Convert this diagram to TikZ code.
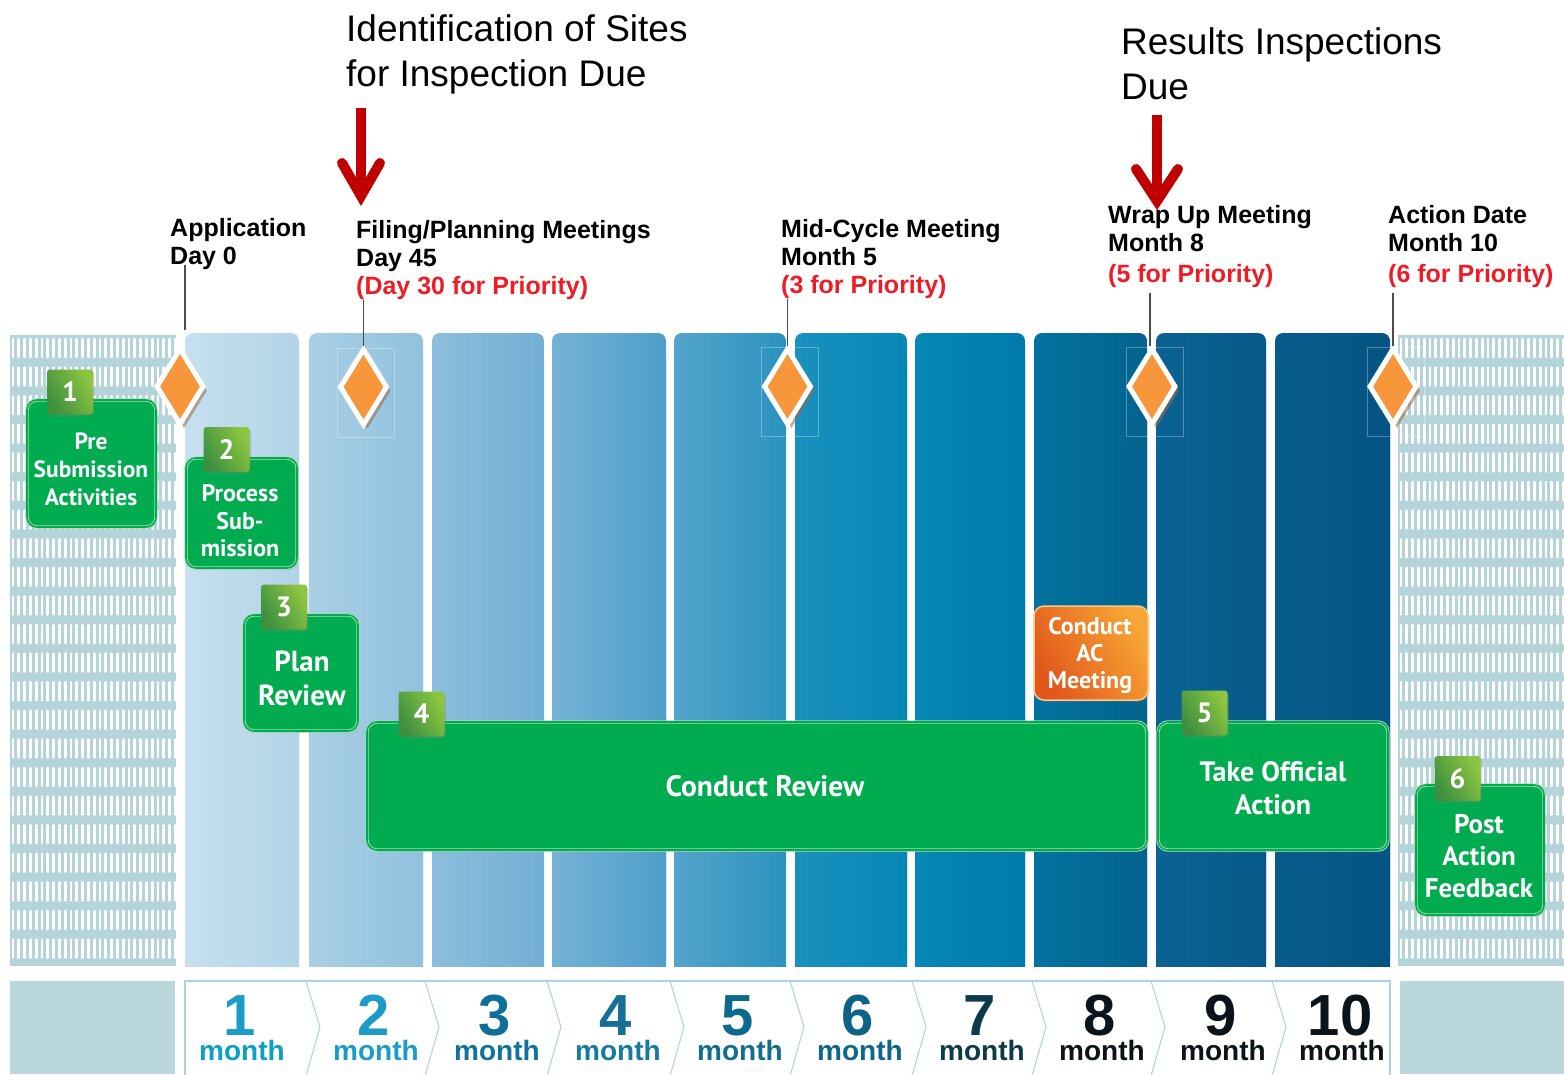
\documentclass[tikz,border=0pt]{standalone}
\usepackage{fontspec}
\setmainfont{Liberation Sans}
\newfontfamily\boxfont{PT Sans}
\usetikzlibrary{shapes.geometric,shadows}
\definecolor{gfill}{HTML}{00AC4F}
\definecolor{gedge}{HTML}{A9DDB4}
\definecolor{tabA}{HTML}{3E8F40}
\definecolor{tabB}{HTML}{8CC540}
\definecolor{orangeD}{HTML}{F7963B}
\definecolor{dshadow}{HTML}{9A6A4A}
\definecolor{prio}{HTML}{EE1C25}
\definecolor{arrowred}{HTML}{C00000}
\definecolor{hatchbg}{HTML}{B5D4D9}
\definecolor{blockbg}{HTML}{BAD8DB}
\definecolor{panelln}{HTML}{A6D2EA}
\definecolor{acA}{HTML}{E2561C}
\definecolor{acB}{HTML}{F7A634}
\definecolor{acedge}{HTML}{F9C98A}
\definecolor{c1a}{HTML}{C6E0EF}\definecolor{c1b}{HTML}{B2D4E8}
\definecolor{c2a}{HTML}{A9CFE5}\definecolor{c2b}{HTML}{90C1DD}
\definecolor{c3a}{HTML}{8CBEDC}\definecolor{c3b}{HTML}{72AFD4}
\definecolor{c4a}{HTML}{75B2D6}\definecolor{c4b}{HTML}{4E9FC8}
\definecolor{c5a}{HTML}{55A4CB}\definecolor{c5b}{HTML}{2A93BF}
\definecolor{c6a}{HTML}{1A90BD}\definecolor{c6b}{HTML}{0887B7}
\definecolor{c7a}{HTML}{0687B5}\definecolor{c7b}{HTML}{017AAA}
\definecolor{c8a}{HTML}{04729F}\definecolor{c8b}{HTML}{03638F}
\definecolor{c9a}{HTML}{0B6393}\definecolor{c9b}{HTML}{065A89}
\definecolor{c10a}{HTML}{085C8B}\definecolor{c10b}{HTML}{045483}
\definecolor{m1}{HTML}{1A9CC6}\definecolor{m2}{HTML}{1E9AC8}
\definecolor{m3}{HTML}{0F6F99}\definecolor{m4}{HTML}{156F97}
\definecolor{m5}{HTML}{0E6A8C}\definecolor{m6}{HTML}{0D6385}
\definecolor{m7}{HTML}{0B3B4A}\definecolor{m8}{HTML}{0B141A}
\definecolor{m9}{HTML}{0B141A}\definecolor{m10}{HTML}{0B141A}
\definecolor{w1}{HTML}{0BA0C8}\definecolor{w2}{HTML}{1A9BC9}
\definecolor{w3}{HTML}{10739E}\definecolor{w4}{HTML}{167B9E}
\definecolor{w5}{HTML}{126E8E}\definecolor{w6}{HTML}{0E6688}
\definecolor{w7}{HTML}{0D3B48}\definecolor{w8}{HTML}{0D1418}
\definecolor{w9}{HTML}{0D1418}\definecolor{w10}{HTML}{0D1418}
\begin{document}
\begin{tikzpicture}[x=1pt,y=-1pt,
  hatchln/.style={white,line width=2.7pt,line cap=round},
  diam/.style={shape=diamond,minimum width=48pt,minimum height=77pt,inner sep=0pt,
    line width=5pt,draw=white,fill=orangeD,line join=miter,
    drop shadow={shadow xshift=4pt,shadow yshift=-4pt,fill=dshadow,opacity=0.55}},
  faintrect/.style={white,opacity=0.3,line width=0.6pt},
  pin/.style={black!70,line width=1.3pt},
  lab/.style={anchor=north west,align=left,inner sep=0pt,font=\bfseries\fontsize{25}{28}\selectfont},
  ttl/.style={anchor=north west,align=left,inner sep=0pt,font=\fontsize{37}{45}\selectfont},
  gbox/.style={rounded corners=10pt,fill=gfill,draw=gedge,double=gfill,double distance=1.6pt,
    line width=0.9pt,drop shadow={shadow xshift=1.5pt,shadow yshift=-2pt,opacity=0.25}},
  acbox/.style={rounded corners=10pt,left color=acA,right color=acB,shading angle=120,draw=acedge,
    line width=1.5pt,drop shadow={shadow xshift=1.5pt,shadow yshift=-2pt,opacity=0.25}},
  gtext/.style={text=white,align=center,inner sep=0pt,font=\boxfont\bfseries\fontsize{23.5}{28}\selectfont},
  tabbox/.style={minimum width=46pt,minimum height=45pt,inner sep=0pt,rounded corners=3pt,
    left color=tabA,right color=tabB,shading angle=120,text=white,
    font=\boxfont\bfseries\fontsize{28}{28}\selectfont,
    drop shadow={shadow xshift=1.5pt,shadow yshift=-2pt,opacity=0.3}},
  redshaft/.style={arrowred,line width=10pt,line cap=butt},
  redbarb/.style={arrowred,line width=10pt,line cap=round,line join=miter},
  mnum/.style={anchor=base,inner sep=0pt,font=\bfseries\fontsize{58}{58}\selectfont},
  mword/.style={anchor=base,inner sep=0pt,font=\bfseries\fontsize{28}{28}\selectfont},
]
\useasboundingbox (0,0) rectangle (1564,1074);
\fill[white] (0,0) rectangle (1564,1074);

% hatched side areas
\begin{scope}
  \clip (10,335) rectangle (176,966);
  \fill[hatchbg] (10,335) rectangle (176,966);
  \foreach \r in {0,...,22}{
    \foreach \c in {0,...,28}{
      \draw[hatchln] ({13+\c*5.8},{339+\r*28.6}) -- ++(0,18);
    }
  }
\end{scope}
\begin{scope}
  \clip (1398,335) rectangle (1564,966);
  \fill[hatchbg] (1398,335) rectangle (1564,966);
  \foreach \r in {0,...,22}{
    \foreach \c in {0,...,28}{
      \draw[hatchln] ({1401+\c*5.8},{339+\r*28.6}) -- ++(0,18);
    }
  }
\end{scope}

% month columns
\foreach \xa/\xb/\i in {185/299/1,309/423/2,432/544/3,552/666/4,674/786/5,795/907/6,915/1025/7,1034/1147/8,1156/1266/9,1275/1390/10}{
  \shade[left color=c\i a,right color=c\i b,rounded corners=8pt] (\xa,333) rectangle (\xb,966);
  \shade[left color=c\i a,right color=c\i b] (\xa,360) rectangle (\xb,966);
}

% bottom month panel
\fill[blockbg] (10,981) rectangle (175,1074);
\fill[blockbg] (1400,981) rectangle (1564,1074);
\draw[panelln,line width=1.2pt,fill=white] (185,1076) -- (185,981) -- (1390,981) -- (1390,1076);
\foreach \t in {306,425,547,670,790,912,1032,1151,1272}{
  \draw[panelln,line width=1pt] (\t,981) -- (\t+14,1027) -- (\t,1076);
}
\foreach \x/\n in {240/1,374/2,495/3,616/4,738/5,858/6,980/7,1100/8,1221/9,1340/10}{
  \node[mnum,text=m\n] (mn\n) at (\x,1035) {\n};
  \node[mword,text=w\n] (mw\n) at (\x+2,1060) {month};
}

% diamonds
\node[diam] (d1) at (180,386.5) {};
\node[diam] (d2) at (363.5,387) {};
\node[diam] (d3) at (787.5,386.5) {};
\node[diam] (d4) at (1152,386.5) {};
\node[diam] (d5) at (1393,386.5) {};
\foreach \d in {d2,d3,d4,d5}{
  \draw[faintrect] ([shift={(-26,-39)}]\d.center) rectangle ([shift={(31,50)}]\d.center);
}

% milestone labels
\node[lab] (la) at (170,218) {Application\\Day 0};
\node[lab] (lb) at (356,220) {Filing/Planning Meetings\\Day 45\\\textcolor{prio}{(Day 30 for Priority)}};
\node[lab] (lc) at (781,219) {Mid-Cycle Meeting\\Month 5\\\textcolor{prio}{(3 for Priority)}};
\node[lab] (ld) at (1108,205) {Wrap Up Meeting\\Month 8\\[3pt]\textcolor{prio}{(5 for Priority)}};
\node[lab] (le) at (1388,205) {Action Date\\Month 10\\[3pt]\textcolor{prio}{(6 for Priority)}};

% pins
\coordinate (p1) at ([xshift=5pt]d1.north);
\draw[pin] ([yshift=5pt]p1 |- la.south) -- ([yshift=16pt]p1);
\draw[pin] (d2.north |- lb.south) -- (d2.north);
\draw[pin] (d3.north |- lc.south) -- (d3.north);
\coordinate (p4) at ([xshift=-2pt]d4.north);
\draw[pin] ([yshift=-5pt]p4 |- ld.south) -- (p4);
\draw[pin] ([yshift=-5pt]d5.north |- le.south) -- (d5.north);

% titles
\node[ttl] (ta) at (346,14) {Identification of Sites\\for Inspection Due};
\node[ttl] (tb) at (1121,27) {Results Inspections\\Due};

% green boxes
\node[gbox,minimum width=129pt,minimum height=127pt] (b1) at (91.5,463.5) {};
\node[gbox,minimum width=111pt,minimum height=110pt] (b2) at (241.5,513) {};
\node[gbox,minimum width=114pt,minimum height=116pt] (b3) at (301,673) {};
\node[gbox,minimum width=780pt,minimum height=128pt] (b4) at (757,786) {};
\node[gbox,minimum width=230pt,minimum height=128pt] (b5) at (1273,786) {};
\node[gbox,minimum width=128pt,minimum height=130pt] (b6) at (1480,850) {};
\node[acbox,minimum width=114pt,minimum height=94pt] (bac) at (1091,653) {};

\node[gtext] (x1) at (91,469) {Pre\\Submission\\Activities};
\node[gtext,font=\boxfont\bfseries\fontsize{24}{27.5}\selectfont] (x2) at (240,521) {Process\\Sub-\\mission};
\node[gtext,font=\boxfont\bfseries\fontsize{29}{34}\selectfont] (x3) at (302,678) {Plan\\Review};
\node[gtext,font=\boxfont\bfseries\fontsize{29.5}{29.5}\selectfont] (x4) at (765,786) {Conduct Review};
\node[gtext,font=\boxfont\bfseries\fontsize{28}{33}\selectfont] (x5) at (1273,788) {Take Official\\Action};
\node[gtext,font=\boxfont\bfseries\fontsize{27}{32}\selectfont] (x6) at (1479,856) {Post\\Action\\Feedback};
\node[gtext,font=\boxfont\bfseries\fontsize{24}{27}\selectfont] (xac) at (1090,655) {Conduct\\AC\\Meeting};

% number tabs
\node[tabbox] (n1) at (70,392) {1};
\node[tabbox] (n2) at (226.5,449.5) {2};
\node[tabbox] (n3) at (284,607) {3};
\node[tabbox] (n4) at (421.5,714) {4};
\node[tabbox] (n5) at (1204.5,713) {5};
\node[tabbox] (n6) at (1457.5,778.5) {6};

% red arrows
\coordinate (a1s) at (361,108);
\coordinate (a1e) at (361,196);
\draw[redshaft] (a1s) -- (a1e);
\draw[redbarb] ([shift={(-19,-33)}]a1e) -- (a1e) -- ([shift={(19,-33)}]a1e);
\coordinate (a2s) at (1157,115);
\coordinate (a2e) at (1157,201);
\draw[redshaft] (a2s) -- (a2e);
\draw[redbarb] ([shift={(-21,-32)}]a2e) -- (a2e) -- ([shift={(21,-32)}]a2e);
\end{tikzpicture}
\end{document}
